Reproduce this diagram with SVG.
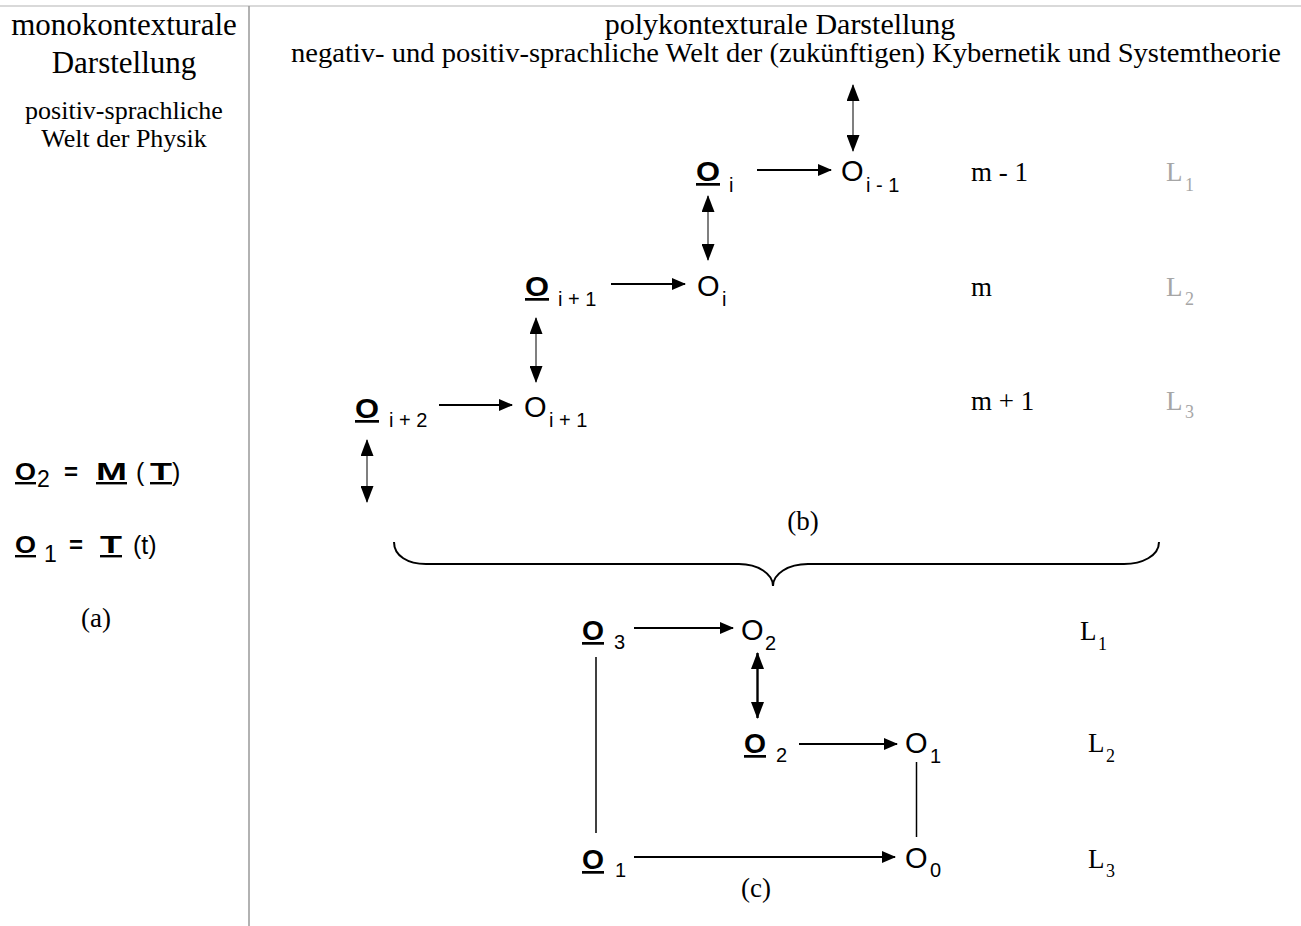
<svg xmlns="http://www.w3.org/2000/svg" width="1301" height="926" viewBox="0 0 1301 926">
<style>
.serif{font-family:"Liberation Serif","Times New Roman",serif;fill:#000}
.sans{font-family:"Liberation Sans",Arial,sans-serif;fill:#000}
.ob{font-family:"Liberation Sans",Arial,sans-serif;font-weight:bold;font-size:27px;text-decoration:underline}
.op{font-family:"Liberation Sans",Arial,sans-serif;font-size:29px}
.sub{font-family:"Liberation Sans",Arial,sans-serif;font-size:20px}
.lv{font-family:"Liberation Serif","Times New Roman",serif;font-size:27px}
.lsub{font-family:"Liberation Serif","Times New Roman",serif;font-size:18px}
.gray{fill:#a6a6a6}
.conn{stroke:#000;stroke-width:1.8;fill:none}
.dbl{stroke:#555;stroke-width:1.5;fill:none}
.plain{stroke:#000;stroke-width:1.5;fill:none}
</style>
<defs>
<marker id="ah" markerUnits="userSpaceOnUse" markerWidth="14" markerHeight="12" refX="13" refY="6" orient="auto-start-reverse" viewBox="0 0 14 12">
<path d="M0,0 L14,6 L0,12 z" fill="#000"/>
</marker>
<marker id="ahd" markerUnits="userSpaceOnUse" markerWidth="17" markerHeight="13" refX="16" refY="6.5" orient="auto-start-reverse" viewBox="0 0 17 13">
<path d="M0,0 L17,6.5 L0,13 z" fill="#000"/>
</marker>
</defs>
<g id="frame">
<line x1="0" y1="6" x2="1301" y2="6" stroke="#ccc" stroke-width="1.5"/>
<line x1="249" y1="6" x2="249" y2="926" stroke="#999" stroke-width="1.5"/>
</g>
<g id="left-header">
<text class="serif" x="124" y="35" font-size="31" text-anchor="middle">monokontexturale</text>
<text class="serif" x="124" y="73" font-size="31" text-anchor="middle">Darstellung</text>
<text class="serif" x="124" y="119" font-size="26" text-anchor="middle">positiv-sprachliche</text>
<text class="serif" x="124" y="147" font-size="26" text-anchor="middle">Welt der Physik</text>
</g>
<g id="right-header">
<text class="serif" x="780" y="34" font-size="30" text-anchor="middle">polykontexturale Darstellung</text>
<text class="serif" x="786" y="62" font-size="27" text-anchor="middle" textLength="990" lengthAdjust="spacingAndGlyphs">negativ- und positiv-sprachliche Welt der (zukünftigen) Kybernetik und Systemtheorie</text>
</g>
<g id="formula-a">
<text class="sans" font-size="24" font-weight="bold" x="15" y="480" text-decoration="underline" textLength="21" lengthAdjust="spacingAndGlyphs">O</text>
<text class="sans" font-size="23" x="37" y="487">2</text>
<text class="sans" font-size="24" font-weight="bold" x="64" y="480">=</text>
<text class="sans" font-size="24" font-weight="bold" x="96" y="480" text-decoration="underline" textLength="31" lengthAdjust="spacingAndGlyphs">M</text>
<text class="sans" font-size="25" x="136" y="481">(</text>
<text class="sans" font-size="24" font-weight="bold" x="150" y="480" text-decoration="underline" textLength="22" lengthAdjust="spacingAndGlyphs">T</text>
<text class="sans" font-size="25" x="172" y="481">)</text>
<text class="sans" font-size="24" font-weight="bold" x="15" y="553" text-decoration="underline" textLength="21" lengthAdjust="spacingAndGlyphs">O</text>
<text class="sans" font-size="23" x="44" y="562">1</text>
<text class="sans" font-size="24" font-weight="bold" x="69" y="553">=</text>
<text class="sans" font-size="24" font-weight="bold" x="100" y="553" text-decoration="underline" textLength="22" lengthAdjust="spacingAndGlyphs">T</text>
<text class="sans" font-size="25" x="133" y="554">(t)</text>
<text class="serif" font-size="27" x="96" y="627" text-anchor="middle">(a)</text>
</g>
<g id="connectors">
<line class="dbl" x1="853" y1="85" x2="853" y2="151" marker-start="url(#ahd)" marker-end="url(#ahd)"/>
<line class="conn" x1="757" y1="170" x2="831" y2="170" marker-end="url(#ah)"/>
<line class="dbl" x1="708" y1="196" x2="708" y2="260" marker-start="url(#ahd)" marker-end="url(#ahd)"/>
<line class="conn" x1="611" y1="284" x2="685" y2="284" marker-end="url(#ah)"/>
<line class="dbl" x1="536" y1="318" x2="536" y2="382" marker-start="url(#ahd)" marker-end="url(#ahd)"/>
<line class="conn" x1="439" y1="405" x2="512" y2="405" marker-end="url(#ah)"/>
<line class="dbl" x1="367" y1="440" x2="367" y2="502" marker-start="url(#ahd)" marker-end="url(#ahd)"/>
<path d="M394,542 C394,556 408,564 426,564 L739,564 C758,564 773,574 773,586 C773,574 788,564 808,564 L1124,564 C1142,564 1159,556 1159,542" stroke="#000" stroke-width="2" fill="none"/>
<line class="conn" x1="634" y1="628" x2="733" y2="628" marker-end="url(#ah)"/>
<line stroke="#000" stroke-width="2.4" x1="757.5" y1="653" x2="757.5" y2="718" marker-start="url(#ahd)" marker-end="url(#ahd)"/>
<line class="conn" x1="799" y1="744" x2="897" y2="744" marker-end="url(#ah)"/>
<line class="plain" x1="596" y1="657" x2="596" y2="833"/>
<line class="plain" x1="916.5" y1="762" x2="916.5" y2="837"/>
<line class="conn" x1="634" y1="857" x2="895" y2="857" marker-end="url(#ah)"/>
</g>
<g id="node-b-Oi-u"><text class="ob" x="696" y="181" textLength="24" lengthAdjust="spacingAndGlyphs">O</text><text class="sub" x="729" y="192">i</text></g>
<g id="node-b-Oi-1"><text class="op" x="841" y="181">O</text><text class="sub" x="866" y="192">i - 1</text></g>
<g id="label-b-m-1"><text class="lv" x="971" y="181">m - 1</text></g>
<g id="label-b-L1"><text class="lv gray" x="1166" y="181">L</text><text class="lsub gray" x="1185" y="191">1</text></g>
<g id="node-b-Oi1-u"><text class="ob" x="525" y="296" textLength="24" lengthAdjust="spacingAndGlyphs">O</text><text class="sub" x="558" y="306">i + 1</text></g>
<g id="node-b-Oi"><text class="op" x="697" y="296">O</text><text class="sub" x="722" y="306">i</text></g>
<g id="label-b-m"><text class="lv" x="971" y="296">m</text></g>
<g id="label-b-L2"><text class="lv gray" x="1166" y="296">L</text><text class="lsub gray" x="1185" y="305">2</text></g>
<g id="node-b-Oi2-u"><text class="ob" x="355" y="418" textLength="24" lengthAdjust="spacingAndGlyphs">O</text><text class="sub" x="389" y="427">i + 2</text></g>
<g id="node-b-Oi1"><text class="op" x="524" y="417">O</text><text class="sub" x="549" y="427">i + 1</text></g>
<g id="label-b-m1"><text class="lv" x="971" y="410">m + 1</text></g>
<g id="label-b-L3"><text class="lv gray" x="1166" y="410">L</text><text class="lsub gray" x="1185" y="418">3</text></g>
<g id="label-b"><text class="serif" font-size="27" x="803" y="530" text-anchor="middle">(b)</text></g>
<g id="node-c-O3-u"><text class="ob" x="582" y="640" textLength="22" lengthAdjust="spacingAndGlyphs">O</text><text class="sub" x="614" y="649">3</text></g>
<g id="node-c-O2"><text class="op" x="741" y="640">O</text><text class="sub" x="765" y="650">2</text></g>
<g id="label-c-L1"><text class="lv" x="1080" y="640">L</text><text class="lsub" x="1098" y="650">1</text></g>
<g id="node-c-O2-u"><text class="ob" x="744" y="753" textLength="22" lengthAdjust="spacingAndGlyphs">O</text><text class="sub" x="776" y="762">2</text></g>
<g id="node-c-O1"><text class="op" x="905" y="753">O</text><text class="sub" x="930" y="763">1</text></g>
<g id="label-c-L2"><text class="lv" x="1088" y="752">L</text><text class="lsub" x="1106" y="762">2</text></g>
<g id="node-c-O1-u"><text class="ob" x="582" y="869" textLength="22" lengthAdjust="spacingAndGlyphs">O</text><text class="sub" x="615" y="877">1</text></g>
<g id="node-c-O0"><text class="op" x="905" y="868">O</text><text class="sub" x="930" y="877">0</text></g>
<g id="label-c-L3"><text class="lv" x="1088" y="868">L</text><text class="lsub" x="1106" y="877">3</text></g>
<g id="label-c"><text class="serif" font-size="27" x="756" y="897" text-anchor="middle">(c)</text></g>
</svg>
